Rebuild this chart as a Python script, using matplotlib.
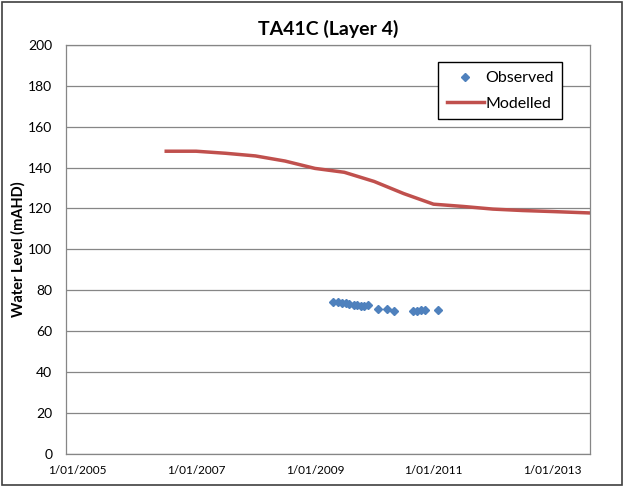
import matplotlib
matplotlib.use("Agg")
import matplotlib.pyplot as plt
import numpy as np
from datetime import datetime

plt.rcParams['font.family'] = ['Lato', 'DejaVu Sans']

# modelled water level (mAHD)
model_dates = ["2006-07-01", "2007-01-01", "2007-07-01", "2008-01-01", "2008-07-01",
               "2009-01-01", "2009-07-01", "2010-01-01", "2010-07-01", "2011-01-01",
               "2011-07-01", "2012-01-01", "2012-07-01", "2013-01-01", "2013-08-23"]
model_vals = [148.0, 148.0, 147.0, 145.7, 143.2, 139.6, 137.7, 133.2, 127.3, 122.1,
              121.0, 119.7, 119.0, 118.5, 117.8]

# observed water level (mAHD)
obs_dates = ["2009-04-25", "2009-05-22", "2009-06-16", "2009-07-11", "2009-07-31",
             "2009-08-27", "2009-09-20", "2009-10-13", "2009-11-02", "2009-11-23",
             "2010-01-24", "2010-03-20", "2010-04-30", "2010-08-25", "2010-09-21",
             "2010-10-17", "2010-11-11", "2011-01-26"]
obs_vals = [74.5, 74.2, 74.0, 73.8, 73.3, 73.0, 72.6, 72.4, 72.3, 72.7,
            70.7, 70.6, 69.8, 70.1, 70.1, 70.2, 70.2, 70.2]

xtick_dates = ["2005-01-01", "2007-01-01", "2009-01-01", "2011-01-01", "2013-01-01"]
xtick_labels = ["1/01/2005", "1/01/2007", "1/01/2009", "1/01/2011", "1/01/2013"]

to_dt = lambda lst: [datetime.strptime(d, "%Y-%m-%d") for d in lst]

fig = plt.figure(figsize=(6.24, 4.88), dpi=100)
ax = fig.add_axes([0.106, 0.070, 0.840, 0.838])

ax.plot(to_dt(obs_dates), obs_vals, linestyle='none', marker='D', markersize=4.5,
        color='#4F81BD', label='Observed', zorder=3)
ax.plot(to_dt(model_dates), model_vals, color='#C0504D', linewidth=2.5,
        label='Modelled', zorder=2)

ax.set_xlim(datetime(2004, 10, 23), datetime(2013, 8, 23))
ax.set_ylim(0, 200)
ax.set_yticks(np.arange(0, 201, 20))
ax.set_xticks(to_dt(xtick_dates))
ax.set_xticklabels(xtick_labels, fontsize=8.5)
ax.tick_params(axis='y', labelsize=10, length=0, pad=10)
ax.tick_params(axis='x', length=0, pad=8)
ax.grid(axis='y', color='#868686', linewidth=0.9)
ax.set_axisbelow(True)
for s in ax.spines.values():
    s.set_color('#868686')
    s.set_linewidth(0.9)

ax.set_ylabel('Water Level (mAHD)', fontsize=10.5, fontweight='bold')
ax.yaxis.set_label_coords(-0.077, 0.5)
ax.set_title('TA41C (Layer 4)', fontsize=14, fontweight='bold', pad=7)

leg = ax.legend(loc='upper right', bbox_to_anchor=(0.962, 0.977), fontsize=11.5,
                frameon=True, fancybox=False, borderpad=0.55, handlelength=2.3,
                handletextpad=0.1, labelspacing=0.7, markerscale=0.8)
leg.get_frame().set_edgecolor('black')
leg.get_frame().set_linewidth(1.0)
leg.get_frame().set_alpha(1)

# outer chart border
fig.patches.append(plt.Rectangle((0.004, 0.006), 0.992, 0.99, transform=fig.transFigure,
                                 fill=False, edgecolor='#404040', linewidth=1.2))

fig.savefig('out.png', dpi=100)
